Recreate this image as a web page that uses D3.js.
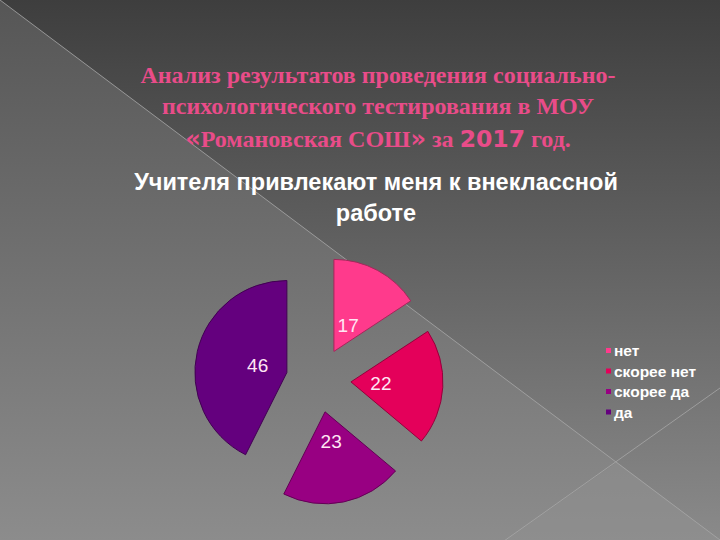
<!DOCTYPE html>
<html>
<head>
<meta charset="utf-8">
<script src="https://cdn.jsdelivr.net/npm/d3@7"></script>
<style>
  html, body { margin: 0; padding: 0; background: #555; }
  svg { display: block; }
</style>
</head>
<body>
<div id="chart"></div>
<script>
// ---- data ----
const categories = ["нет", "скорее нет", "скорее да", "да"];
const values = [17, 22, 23, 46];
const colors = ["#FF3A8C", "#E4005A", "#980082", "#64007E"];
const titleLines = [
  "Анализ результатов проведения социально-",
  "психологического тестирования в МОУ"
];
const chartTitle = ["Учителя привлекают меня к внеклассной", "работе"];

const W = 720, H = 540;
const svg = d3.select("#chart").append("svg").attr("width", W).attr("height", H);
const defs = svg.append("defs");

// background gradients
const g1 = defs.append("linearGradient").attr("id", "bgTop").attr("x1", 0).attr("y1", 0).attr("x2", 0).attr("y2", 1);
g1.append("stop").attr("offset", "0%").attr("stop-color", "#3e3e3e");
g1.append("stop").attr("offset", "100%").attr("stop-color", "#8a8a8a");
const g2 = defs.append("linearGradient").attr("id", "bgLow").attr("x1", 0).attr("y1", 0).attr("x2", 0).attr("y2", 1);
g2.append("stop").attr("offset", "0%").attr("stop-color", "#565656");
g2.append("stop").attr("offset", "100%").attr("stop-color", "#8c8c8c");

svg.append("rect").attr("width", W).attr("height", H).attr("fill", "url(#bgTop)");
svg.append("path").attr("d", `M0,0 L${W},${H} L0,${H} Z`).attr("fill", "url(#bgLow)");
svg.append("path").attr("d", `M506,${H} L617,462 L${W},${H} Z`).attr("fill", "#8f8f8f").attr("opacity", 0.5);
svg.append("line").attr("x1", 0).attr("y1", 0).attr("x2", W).attr("y2", H)
  .attr("stroke", "#a8a8a8").attr("stroke-width", 1).attr("opacity", 0.8);
svg.append("line").attr("x1", 504).attr("y1", H + 1).attr("x2", W).attr("y2", 388)
  .attr("stroke", "#a8a8a8").attr("stroke-width", 1).attr("opacity", 0.8);

// ---- main title ----
const titleColor = "#E94C89";
const serif = "'Liberation Serif', 'Times New Roman', serif";
const heavy = "'DejaVu Sans', 'Liberation Sans', sans-serif";
const tg = svg.append("g").attr("fill", titleColor).attr("text-anchor", "middle");
const titleY = [83, 114];
titleLines.forEach((t, i) => {
  tg.append("text").attr("x", 378).attr("y", titleY[i])
    .attr("font-family", serif).attr("font-weight", "bold").attr("font-size", 24).text(t);
});
const t3 = tg.append("text").attr("x", 378).attr("y", 147)
  .attr("font-family", serif).attr("font-weight", "bold").attr("font-size", 24);
t3.append("tspan").attr("font-family", heavy).attr("font-weight", 900).attr("font-size", 24).text("«");
t3.append("tspan").text("Романовская СОШ");
t3.append("tspan").attr("font-family", heavy).attr("font-weight", 900).attr("font-size", 24).text("»");
t3.append("tspan").text(" за ");
t3.append("tspan").attr("font-family", heavy).attr("font-weight", 900).attr("font-size", 23.5).text("2017");
t3.append("tspan").text(" год.");

// ---- chart title ----
const ct = svg.append("g").attr("fill", "#ffffff").attr("text-anchor", "middle")
  .attr("font-family", "'Liberation Sans', Arial, sans-serif").attr("font-size", 23.5)
  .attr("font-weight", "bold");
ct.append("text").attr("x", 376).attr("y", 190).text(chartTitle[0]);
ct.append("text").attr("x", 376).attr("y", 221).text(chartTitle[1]);

// ---- pie ----
const cx = 318.5, cy = 380, R = 92, explode = 32.5;
const pie = d3.pie().sort(null).value(d => d.v).startAngle(0).endAngle(2 * Math.PI);
const arcs = pie(values.map((v, i) => ({ v, i })));
const arc = d3.arc().innerRadius(0).outerRadius(R);
const labelArc = d3.arc().innerRadius(30).outerRadius(30);

const pg = svg.append("g").attr("transform", `translate(${cx},${cy})`);
const slices = pg.selectAll("g.slice").data(arcs).enter().append("g")
  .attr("class", "slice")
  .attr("transform", d => {
    const a = (d.startAngle + d.endAngle) / 2;
    return `translate(${Math.sin(a) * explode},${-Math.cos(a) * explode})`;
  });
slices.append("path").attr("d", arc)
  .attr("fill", d => colors[d.data.i])
  .attr("stroke", d => d3.color(colors[d.data.i]).darker(1.2))
  .attr("stroke-width", 1);
slices.append("text")
  .attr("transform", d => `translate(${labelArc.centroid(d)})`)
  .attr("text-anchor", "middle").attr("dy", "0.36em")
  .attr("font-family", "'Liberation Sans', Arial, sans-serif").attr("font-size", 19)
  .attr("fill", "#FFE6F4")
  .text(d => d.data.v);

// ---- legend ----
const lg = svg.append("g").attr("transform", "translate(606,351)");
const items = lg.selectAll("g").data(categories).enter().append("g")
  .attr("transform", (d, i) => `translate(0,${i * 20.5})`);
items.append("rect").attr("x", 0).attr("y", -3).attr("width", 5).attr("height", 5)
  .attr("fill", (d, i) => colors[i]);
items.append("text").attr("x", 8).attr("y", 0).attr("dy", "0.35em")
  .attr("font-family", "'Liberation Sans', Arial, sans-serif").attr("font-size", 15.5)
  .attr("font-weight", "bold").attr("fill", "#ffffff").text(d => d);
</script>
</body>
</html>
